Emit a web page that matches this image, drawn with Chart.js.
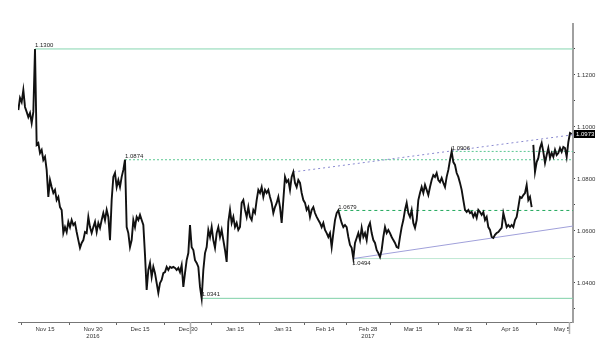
<!DOCTYPE html>
<html>
<head>
<meta charset="utf-8">
<script src="https://cdn.jsdelivr.net/npm/chart.js@4.4.0/dist/chart.umd.min.js"></script>
<style>
  html, body { margin: 0; padding: 0; background: #fff; }
  #wrap { width: 600px; height: 342px; }
</style>
</head>
<body>
<div id="wrap"><canvas id="fx" width="600" height="342"></canvas></div>
<script>
const prices = [
  1.1065,1.1112,1.1096,1.1142,1.1077,1.1058,1.1038,1.1054,1.1015,1.1058,
  1.1300,1.0931,1.0938,1.0900,1.0912,1.0873,1.0885,1.0835,1.0731,1.0796,
  1.0769,1.0746,1.0758,1.0719,1.0731,1.0692,1.0681,1.0592,1.0615,1.0596,
  1.0635,1.0615,1.0642,1.0623,1.0631,1.0596,1.0565,1.0535,1.0554,1.0565,
  1.0596,1.0592,1.0654,1.0615,1.0592,1.0615,1.0635,1.0596,1.0631,1.0612,
  1.0642,1.0669,1.0642,1.0681,1.0654,1.0565,1.0719,1.0808,1.0823,1.0769,
  1.0796,1.0769,1.0808,1.0835,1.0874,1.0615,1.0592,1.0538,1.0565,1.0642,
  1.0615,1.0654,1.0642,1.0662,1.0642,1.0623,1.0508,1.0373,1.0450,1.0477,
  1.0423,1.0462,1.0438,1.0400,1.0362,1.0400,1.0412,1.0438,1.0442,1.0462,
  1.0450,1.0462,1.0458,1.0462,1.0458,1.0450,1.0458,1.0442,1.0469,1.0385,
  1.0438,1.0488,1.0515,1.0623,1.0538,1.0527,1.0488,1.0477,1.0462,1.0385,
  1.0341,1.0450,1.0515,1.0538,1.0604,1.0577,1.0615,1.0565,1.0535,1.0592,
  1.0615,1.0577,1.0604,1.0565,1.0527,1.0481,1.0635,1.0681,1.0631,1.0654,
  1.0615,1.0631,1.0604,1.0615,1.0708,1.0719,1.0681,1.0654,1.0692,1.0654,
  1.0642,1.0681,1.0669,1.0719,1.0758,1.0746,1.0769,1.0731,1.0758,1.0746,
  1.0758,1.0731,1.0708,1.0669,1.0692,1.0708,1.0731,1.0692,1.0631,1.0719,
  1.0808,1.0788,1.0796,1.0758,1.0808,1.0827,1.0785,1.0769,1.0796,1.0785,
  1.0746,1.0719,1.0708,1.0681,1.0692,1.0654,1.0681,1.0692,1.0669,1.0654,
  1.0642,1.0631,1.0615,1.0631,1.0604,1.0592,1.0577,1.0592,1.0538,1.0592,
  1.0642,1.0669,1.0679,1.0654,1.0631,1.0615,1.0623,1.0615,1.0577,1.0546,
  1.0535,1.0494,1.0554,1.0573,1.0592,1.0565,1.0612,1.0577,1.0592,1.0565,
  1.0615,1.0631,1.0592,1.0565,1.0554,1.0527,1.0515,1.0500,1.0527,1.0577,
  1.0615,1.0592,1.0604,1.0592,1.0577,1.0565,1.0554,1.0538,1.0535,1.0577,
  1.0615,1.0642,1.0681,1.0708,1.0669,1.0654,1.0681,1.0631,1.0612,1.0642,
  1.0719,1.0746,1.0769,1.0746,1.0777,1.0758,1.0738,1.0769,1.0796,1.0815,
  1.0808,1.0823,1.0796,1.0788,1.0804,1.0785,1.0769,1.0808,1.0835,1.0873,
  1.0906,1.0865,1.0854,1.0823,1.0808,1.0785,1.0758,1.0719,1.0681,1.0673,
  1.0681,1.0669,1.0673,1.0654,1.0669,1.0650,1.0681,1.0673,1.0662,1.0673,
  1.0642,1.0654,1.0615,1.0604,1.0577,1.0573,1.0585,1.0592,1.0596,1.0604,
  1.0612,1.0669,1.0642,1.0615,1.0623,1.0615,1.0623,1.0615,1.0642,1.0654,
  1.0692,1.0731,1.0727,1.0738,1.0746,1.0777,1.0719,1.0731,1.0692,1.0931,
  1.0827,1.0865,1.0881,1.0919,1.0938,1.0904,1.0862,1.0892,1.0919,1.0881,
  1.0900,1.0885,1.0912,1.0892,1.0900,1.0919,1.0904,1.0923,1.0919,1.0885,
  1.0942,1.0977,1.0973
];
// weekend gap (french election) after this sample
const gapAfter = 308;

// date labels on the time axis, in sample units
const tickPos = [16.0, 44.8, 73.0, 101.8, 130.0, 158.8, 184.0, 209.8, 236.8, 266.8, 295.0, 326.2];
const tickLabels = [['Nov 15'], ['Nov 30', '2016'], ['Dec 15'], ['Dec 30'], ['Jan 15'], ['Jan 31'],
  ['Feb 14'], ['Feb 28', '2017'], ['Mar 15'], ['Mar 31'], ['Apr 16'], ['May 5']];
const yearBreaks = [103, 330.5];

// horizontal levels and the sample where each one starts
const levelValues = [1.1300, 1.0874, 1.0906, 1.0679, 1.0494, 1.0341];
const levelStart = [10, 64, 260, 192, 201, 110];

// trend lines
const resistance = [{ x: 165, y: 1.0827 }, { x: 332.8, y: 1.0970 }];
const support = [{ x: 201, y: 1.0494 }, { x: 332.8, y: 1.0619 }];

const xMin = -0.2, xMax = 332.8;
const yMin = 1.025, yMax = 1.1396;

const levelStyle = [
  { color: '#86d6b0', dash: [] },
  { color: '#5cc893', dash: [2, 2] },
  { color: '#5cc893', dash: [2, 2] },
  { color: '#22a85c', dash: [3, 3] },
  { color: '#bfe8d3', dash: [] },
  { color: '#7fd0a8', dash: [] }
];
const labelBelow = [false, false, false, false, true, false];

const FONT = '"Liberation Sans", Arial, sans-serif';

const datasets = [{
  data: prices.map((p, i) => ({ x: i, y: p })),
  borderColor: '#111',
  borderWidth: 1.9,
  pointRadius: 0,
  tension: 0,
  order: 0,
  segment: {
    borderColor: c => c.p0DataIndex === gapAfter ? 'rgba(0,0,0,0)' : undefined
  }
}];

levelValues.forEach((v, i) => {
  datasets.push({
    data: [{ x: levelStart[i], y: v }, { x: xMax, y: v }],
    borderColor: levelStyle[i].color,
    borderDash: levelStyle[i].dash,
    borderWidth: 1,
    pointRadius: 0,
    order: 2
  });
});
datasets.push({
  data: resistance, borderColor: '#8a8ad0', borderDash: [2, 3],
  borderWidth: 1, pointRadius: 0, order: 1
});
datasets.push({
  data: support, borderColor: '#a0a0da',
  borderWidth: 1, pointRadius: 0, order: 1
});

const notes = {
  id: 'notes',
  afterDatasetsDraw(chart) {
    const { ctx, chartArea, scales: { x, y } } = chart;
    ctx.save();
    ctx.font = '6px ' + FONT;
    ctx.fillStyle = '#222';
    ctx.textAlign = 'left';
    levelValues.forEach((v, i) => {
      const px = x.getPixelForValue(levelStart[i]);
      const py = y.getPixelForValue(v);
      if (labelBelow[i]) {
        ctx.textBaseline = 'top';
        ctx.fillText(v.toFixed(4), px - 1, py + 2);
      } else {
        ctx.textBaseline = 'bottom';
        ctx.fillText(v.toFixed(4), px, py - 0.5);
      }
    });

    // last price tag
    const last = prices[prices.length - 1];
    const ly = y.getPixelForValue(last);
    ctx.fillStyle = '#000';
    ctx.fillRect(chartArea.right + 1, ly - 4, 21, 8);
    ctx.fillStyle = '#fff';
    ctx.textBaseline = 'middle';
    ctx.fillText(last.toFixed(4), chartArea.right + 3, ly);

    // year separators under the axis
    ctx.strokeStyle = '#b0b0b0';
    ctx.lineWidth = 1.5;
    yearBreaks.forEach(b => {
      const px = Math.round(x.getPixelForValue(b)) + 0.5;
      ctx.beginPath();
      ctx.moveTo(px, chartArea.bottom);
      ctx.lineTo(px, chartArea.bottom + 12);
      ctx.stroke();
    });
    ctx.restore();
  }
};

new Chart(document.getElementById('fx'), {
  type: 'line',
  data: { datasets },
  options: {
    responsive: false,
    animation: false,
    devicePixelRatio: 1,
    layout: { padding: { left: 18, top: 24, right: 0, bottom: 0 } },
    plugins: { legend: { display: false }, tooltip: { enabled: false } },
    scales: {
      x: {
        type: 'linear',
        min: xMin,
        max: xMax,
        afterBuildTicks: s => { s.ticks = tickPos.map(v => ({ value: v })); },
        afterFit: s => { s.height = 20; },
        ticks: {
          autoSkip: false, maxRotation: 0, padding: 1,
          font: { family: FONT, size: 6, lineHeight: 1.1 }, color: '#333',
          callback: (v, i) => tickLabels[i]
        },
        grid: { drawOnChartArea: false, offset: true, tickLength: 3, color: '#666' },
        border: { color: '#777', width: 1 }
      },
      y: {
        type: 'linear',
        position: 'right',
        min: yMin,
        max: yMax,
        afterBuildTicks: s => {
          const t = [];
          for (let k = 103; k <= 113; k++) t.push({ value: k / 100 });
          s.ticks = t;
        },
        afterFit: s => { s.width = 27; },
        ticks: {
          padding: 2,
          font: { family: FONT, size: 6 }, color: '#333',
          callback: v => (Math.round(v * 100) % 2 === 0 ? v.toFixed(4) : '')
        },
        grid: { drawOnChartArea: false, tickLength: 2, color: '#444' },
        border: { color: '#a0a0a0', width: 2 }
      }
    }
  },
  plugins: [notes]
});
</script>
</body>
</html>
